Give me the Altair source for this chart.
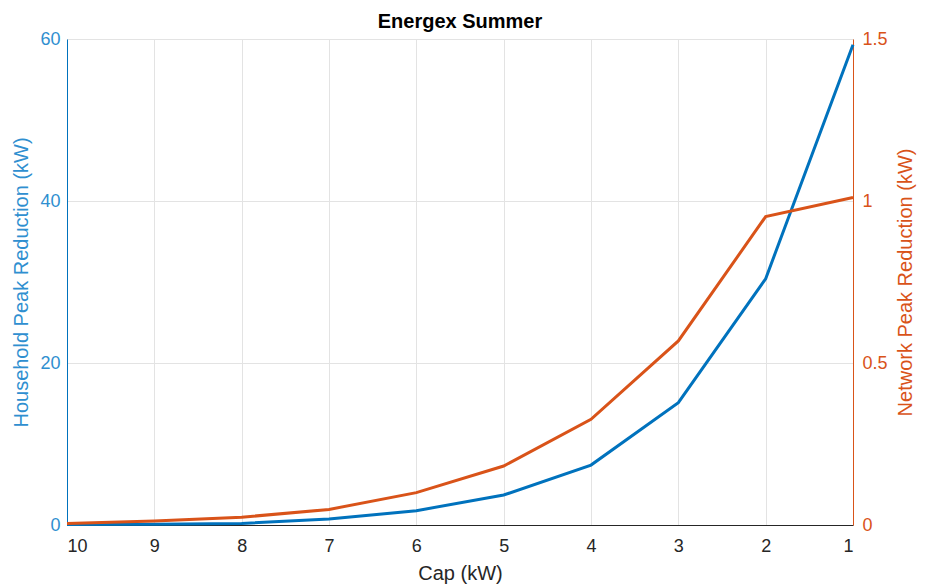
import altair as alt
import pandas as pd

cap = [10, 9, 8, 7, 6, 5, 4, 3, 2, 1]
household = [0.05, 0.1, 0.2, 0.74, 1.77, 3.7, 7.4, 15.1, 30.4, 59.3]
network = [0.005, 0.012, 0.024, 0.048, 0.10, 0.182, 0.326, 0.568, 0.952, 1.011]

df = pd.DataFrame({"cap": cap, "household": household, "network": network})

BLUE = "#0072BD"
ORANGE = "#D95319"
FONT = "Liberation Sans"

x = alt.X("cap:Q", scale=alt.Scale(domain=[1, 10], reverse=True, nice=False),
          axis=alt.Axis(title="Cap (kW)", values=list(range(1, 11)), format="d",
                        grid=True, gridColor="#e3e3e3", domainColor="#262626",
                        tickSize=0, labelPadding=12, labelFontSize=18, labelColor="#262626",
                        titleFontSize=20, titleColor="#262626", titleFontWeight="normal",
                        titlePadding=8, labelFont=FONT, titleFont=FONT))

base = alt.Chart(df).encode(x=x)

left = base.mark_line(color=BLUE, strokeWidth=3).encode(
    y=alt.Y("household:Q", scale=alt.Scale(domain=[0, 60], nice=False),
            axis=alt.Axis(title="Household Peak Reduction (kW)", values=[0, 20, 40, 60],
                          grid=True, gridColor="#e3e3e3", domainColor=BLUE, tickSize=0,
                          labelPadding=7, labelFontSize=18, labelColor="#2f8fd0",
                          titleFontSize=20, titleColor="#2f8fd0", titleFontWeight="normal",
                          titlePadding=8, labelFont=FONT, titleFont=FONT))
)

right = base.mark_line(color=ORANGE, strokeWidth=3).encode(
    y=alt.Y("network:Q", scale=alt.Scale(domain=[0, 1.5], nice=False),
            axis=alt.Axis(title="Network Peak Reduction (kW)", orient="right",
                          values=[0, 0.5, 1, 1.5], grid=False, domainColor=ORANGE, tickSize=0,
                          labelPadding=9, labelFontSize=18, labelColor=ORANGE,
                          titleFontSize=20, titleColor=ORANGE, titleFontWeight="normal",
                          titleAngle=270, titlePadding=28, labelFont=FONT, titleFont=FONT,
                          labelExpr="datum.value == 0 ? '0' : datum.value == 1 ? '1' : format(datum.value, '.1f')"))
)

chart = alt.layer(left, right).resolve_scale(y="independent").properties(
    width=786, height=486,
    title=alt.TitleParams("Energex Summer", font=FONT, fontSize=20, fontWeight="bold",
                          color="#000000", anchor="middle", offset=-2),
    autosize=alt.AutoSizeParams(type="none"),
    padding={"left": 67, "top": 39, "right": 72, "bottom": 63},
).configure_view(stroke="#262626", strokeWidth=1).configure(background="white")

chart.save("out.html", embed_options={"renderer": "svg", "actions": False})
